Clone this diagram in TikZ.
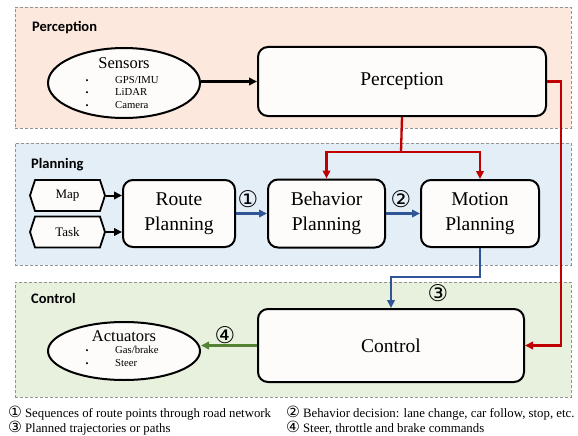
\documentclass[tikz,border=0pt]{standalone}
\usepackage{fontspec}
\setmainfont{Liberation Serif}
\newfontfamily\hdrfont{Carlito}
\newfontfamily\symfont{DejaVu Sans}
\usetikzlibrary{arrows.meta,shapes.geometric,shapes.symbols}
\definecolor{peach}{HTML}{FCE8DC}
\definecolor{lblue}{HTML}{E4EEF7}
\definecolor{lgreen}{HTML}{E8F0DE}
\definecolor{dred}{HTML}{C00000}
\definecolor{dblue}{HTML}{2F5597}
\definecolor{dgreen}{HTML}{548235}
\definecolor{boxfill}{HTML}{FDFCFB}
\begin{document}
\begin{tikzpicture}[x=1pt,y=-1pt,
 region/.style={draw=gray!85, dash pattern=on 3pt off 2pt, line width=0.8pt, inner sep=0, minimum width=556},
 hdr/.style={anchor=base west, inner sep=0, font=\hdrfont\bfseries\fontsize{14.5}{16}\selectfont},
 blk/.style={draw, line width=2pt, rounded corners=10pt, fill=boxfill, align=center, inner sep=0, font=\fontsize{19.5}{25}\selectfont},
 ell/.style={ellipse, draw, line width=2pt, fill=boxfill, inner sep=0, minimum width=152},
 sig/.style={signal, signal to=east and west, signal pointer angle=144, draw, line width=1.8pt, fill=boxfill, minimum width=75, minimum height=31, inner sep=0, font=\fontsize{13}{15}\selectfont},
 ttl/.style={anchor=base, inner sep=0, font=\fontsize{16.5}{18}\selectfont},
 item/.style={anchor=base west, inner sep=0, font=\fontsize{10.7}{12}\selectfont},
 bul/.style={anchor=base, inner sep=0, font=\fontsize{8.5}{9}\selectfont},
 lbl/.style={inner sep=0, font=\symfont\fontsize{23}{23}\selectfont},
 fn/.style={anchor=base west, inner sep=0, font=\fontsize{12.8}{14}\selectfont},
 tip/.style={-{Triangle[length=8pt,width=7.5pt]}},
 karr/.style={tip, line width=2.2pt, black},
 rarr/.style={line width=2.3pt, dred},
 barr/.style={line width=2.3pt, dblue},
 garr/.style={tip, line width=2.6pt, dgreen},
]
\newcommand{\fsy}[1]{{\symfont\fontsize{15.5}{14}\selectfont #1}\hspace{3pt}}
\useasboundingbox (0,0) rectangle (578,436);
% regions
\node[region, fill=peach, minimum height=121] (rper) at (293,67.5) {};
\node[region, fill=lblue, minimum height=122] (rpln) at (293,204) {};
\node[region, fill=lgreen, minimum height=115] (rctl) at (293,339.5) {};
\node[hdr] (hper) at (32,32) {Perception};
\node[hdr] (hpln) at (31,168) {Planning};
\node[hdr] (hctl) at (31,303) {Control};
% perception layer
\node[ell, minimum height=70] (sensors) at (124,83) {};
\node[ttl] (sensT) at (124,68) {Sensors};
\node[bul] (b1) at (87,83) {\textbullet};
\node[bul] (b2) at (87,95.5) {\textbullet};
\node[bul] (b3) at (87,108) {\textbullet};
\node[item] (i1) at (115,83) {GPS/IMU};
\node[item] (i2) at (115,95.5) {LiDAR};
\node[item] (i3) at (115,108) {Camera};
\node[blk, minimum width=288, minimum height=69] (perc) at (402,81.5) {Perception};
% planning layer
\node[sig] (map) at (67.5,195.5) {Map};
\node[sig] (task) at (67.5,232) {Task};
\node[blk, minimum width=112, minimum height=67] (route) at (179,213.5) {Route\\Planning};
\node[blk, minimum width=117, minimum height=68] (behav) at (326.5,213.5) {Behavior\\Planning};
\node[blk, minimum width=118, minimum height=67] (motion) at (480,213.5) {Motion\\Planning};
% control layer
\node[ell, minimum height=58] (act) at (124,351) {};
\node[ttl] (actT) at (124,341) {Actuators};
\node[bul] (b4) at (87,353) {\textbullet};
\node[bul] (b5) at (87,366) {\textbullet};
\node[item] (i4) at (115,353) {Gas/brake};
\node[item] (i5) at (115,366) {Steer};
\node[blk, minimum width=266, minimum height=73] (ctrl) at (391,345.5) {Control};
% labels
\node[lbl] (l1) at (248,199) {①};
\node[lbl] (l2) at (401,199) {②};
\node[lbl] (l3) at (438,293) {③};
\node[lbl] (l4) at (225,335) {④};
% connectors
\coordinate (rj) at (401,152);
\coordinate (rr) at (561,0);
\coordinate (bj) at (0,277);
\draw[karr] (sensors.east |- perc.west) -- (perc.west);
\draw[rarr] (perc.south) -- (rj);
\draw[rarr, tip] (rj) -| (behav.north);
\draw[rarr, tip] (rj) -| (motion.north);
\draw[rarr, tip] (perc.east) -- (perc.east -| rr) |- (ctrl.east);
\draw[karr, line width=2pt] (map.east) -- (map.east -| route.west);
\draw[karr, line width=2pt] (task.east) -- (task.east -| route.west);
\draw[barr, tip] (route.east) -- (behav.west);
\draw[barr, tip] (behav.east) -- (motion.west);
\draw[barr, tip] (motion.south) -- (motion.south |- bj) -| (ctrl.north);
\draw[garr] (ctrl.west) -- (ctrl.west -| act.east);
% footnotes
\node[fn] (f1) at (8,417) {\fsy{①}Sequences of route points through road network};
\node[fn] (f2) at (286,417) {\fsy{②}Behavior decision: lane change, car follow, stop, etc.};
\node[fn] (f3) at (8,432) {\fsy{③}Planned trajectories or paths};
\node[fn] (f4) at (286,432) {\fsy{④}Steer, throttle and brake commands};
\end{tikzpicture}
\end{document}
